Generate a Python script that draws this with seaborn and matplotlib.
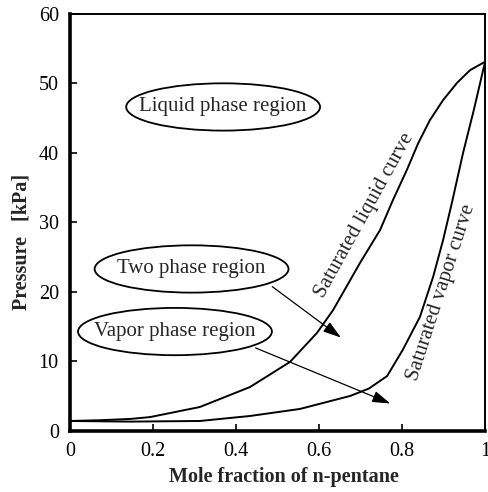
import pandas as pd
import seaborn as sns
import matplotlib.pyplot as plt
from matplotlib.patches import Ellipse

# saturated liquid curve (bubble line)
liq_x = [0.0, 0.072, 0.145, 0.193, 0.313, 0.434, 0.530, 0.595, 0.634, 0.699, 0.747,
         0.778, 0.812, 0.839, 0.867, 0.899, 0.933, 0.964, 1.0]
liq_p = [1.44, 1.55, 1.73, 2.0, 3.45, 6.33, 9.93, 14.1, 17.4, 24.2, 28.9,
         33.2, 37.6, 41.4, 44.7, 47.6, 50.1, 51.9, 53.1]

# saturated vapor curve (dew line)
vap_x = [0.0, 0.145, 0.313, 0.434, 0.554, 0.675, 0.72, 0.764, 0.802, 0.843, 0.875,
         0.899, 0.920, 0.947, 0.973, 1.0]
vap_p = [1.44, 1.35, 1.44, 2.16, 3.17, 5.04, 6.1, 7.9, 11.7, 16.4, 22.2,
         27.5, 32.8, 40.0, 46.2, 53.1]

region_labels = ["Liquid phase region", "Two phase region", "Vapor phase region"]
region_x = [0.369, 0.293, 0.253]
region_p = [46.6, 23.3, 14.3]

liq = pd.DataFrame({"x": liq_x, "p": liq_p})
vap = pd.DataFrame({"x": vap_x, "p": vap_p})

sns.set_style("ticks")
plt.rcParams['font.family'] = ['Liberation Serif', 'DejaVu Serif']

fig = plt.figure(figsize=(4.89, 4.92), dpi=100)
ax = fig.add_axes([0.143, 0.124, 0.849, 0.848])

sns.lineplot(data=liq, x="x", y="p", color="black", lw=1.4, ax=ax)
sns.lineplot(data=vap, x="x", y="p", color="black", lw=1.4, ax=ax)

ax.set_xlim(0, 1)
ax.set_ylim(0, 60)
ax.set_xticks([0, 0.2, 0.4, 0.6, 0.8, 1])
ax.set_xticklabels(["0", "0.2", "0.4", "0.6", "0.8", "1"])
ax.set_yticks([0, 10, 20, 30, 40, 50, 60])
ax.tick_params(direction="in", length=5, width=1.2, labelsize=14.5, colors="black", pad=8)
for s in ["left", "bottom"]:
    ax.spines[s].set_linewidth(2.6)
for s in ["top", "right"]:
    ax.spines[s].set_linewidth(1.4)
for s in ax.spines.values():
    s.set_color("black")

ax.set_xlabel("Mole fraction of n-pentane", fontsize=14.5, fontweight="bold")
ax.set_ylabel("Pressure   [kPa]", fontsize=14.5, fontweight="bold")
ax.xaxis.label.set_va("center")
ax.yaxis.label.set_va("center")
ax.xaxis.set_label_coords(0.516, -0.110)
ax.yaxis.set_label_coords(-0.116, 0.453)

# region labels inside ellipses
for label, cx, cy in zip(region_labels, region_x, region_p):
    ax.add_patch(Ellipse((cx, cy), 0.467, 6.8, fill=False, ec="black", lw=1.3))
    ax.text(cx, cy, label, ha="center", va="center", fontsize=15)

# arrows from region labels to the curves
arrow = dict(arrowstyle="-|>,head_length=1.1,head_width=0.35", color="black", lw=0.9)
ax.annotate("", xy=(0.658, 13.2), xytext=(0.482, 21.0), arrowprops=arrow)
ax.annotate("", xy=(0.778, 3.8), xytext=(0.441, 12.1), arrowprops=arrow)

ax.text(0.71, 31.0, "Saturated liquid curve", rotation=61, ha="center", va="center",
        fontsize=15, rotation_mode="anchor")
ax.text(0.894, 19.9, "Saturated vapor curve", rotation=72, ha="center", va="center",
        fontsize=15, rotation_mode="anchor")

plt.savefig("out.png", dpi=100)
